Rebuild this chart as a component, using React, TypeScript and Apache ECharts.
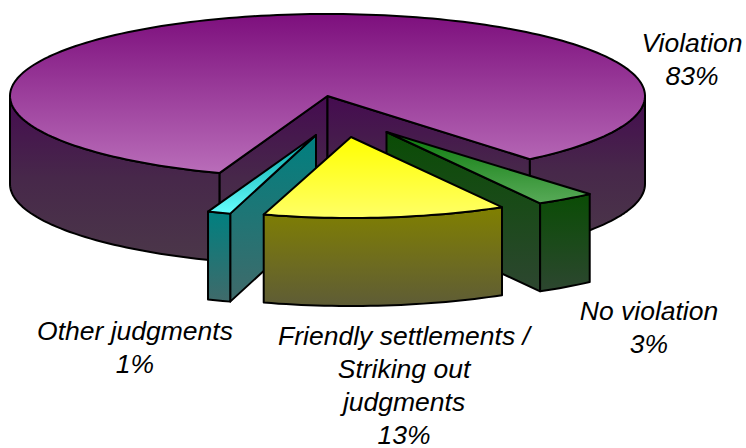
import React, { useEffect, useRef } from "react";
import * as echarts from "echarts";

const categories = ["Violation", "No violation", "Friendly settlements /\nStriking out\njudgments", "Other judgments"];
const shares = [83, 3, 13, 1];

// drawing style, one entry per slice
const topColors = [["#7d0f7d", "#b96db9"], ["#0c7a0c", "#58aa58"], ["#ffff00", "#ffff66"], ["#00a0a0", "#66ffff"]];
const wallColors = [
  ["#450b50", "#47284a", "#4b3749"],
  ["#0a4c05", "#1b4a1a", "#2d4630"],
  ["#808000", "#706e1c", "#5e5c36"],
  ["#008080", "#207575", "#406a6a"],
];
const apexes = [[327.5, 96], [386.5, 132], [351, 137], [316, 135]];
const radiusX = [317.5, 311, 302, 302];
const radiusY = [82, 82, 81, 82];
const drawRank = [0, 1, 3, 1];
const labelAnchors = [[692, 59], [649, 327], [404, 385], [135, 347]];
const fromNudge = [-0.5, 0, 0, -0.3];
const toNudge = [1.2, 0.4, 0, 0.55];

const START_DEG = 110.4;
const DEPTH = 88;
const LINE_HEIGHT = 33;
const toRad = (d: number) => (d * Math.PI) / 180;

const vGradient = (colors: string[]) => ({
  type: "linear",
  x: 0,
  y: 0,
  x2: 0,
  y2: 1,
  colorStops: colors.map((color, k) => ({ offset: k / (colors.length - 1), color })),
});

function App() {
  const ref = useRef<HTMLDivElement>(null);
  useEffect(() => {
    document.body.style.margin = "0";
    const chart = echarts.init(ref.current!, undefined, { renderer: "svg" });
    const total = shares.reduce((a, b) => a + b, 0);
    const starts: number[] = [];
    shares.reduce((acc, v, i) => {
      starts[i] = acc;
      return acc + (v / total) * 360;
    }, START_DEG);

    const renderItem = (params: any, api: any) => {
      const i = params.dataIndex;
      const from = starts[i] + fromNudge[i];
      const to = starts[i] + (api.value(0) / total) * 360 + toNudge[i];
      const [cx, cy] = apexes[i];
      const at = (deg: number, dy = 0) => [
        cx + radiusX[i] * Math.cos(toRad(deg)),
        cy + radiusY[i] * Math.sin(toRad(deg)) + dy,
      ];
      const arc = (a: number, b: number, dy = 0) => {
        const n = Math.max(2, Math.ceil((b - a) / 1.5));
        const pts = [];
        for (let k = 0; k <= n; k++) pts.push(at(a + ((b - a) * k) / n, dy));
        return pts;
      };
      const wallFill = vGradient(wallColors[i]);
      const topFill = vGradient(topColors[i]);
      const base = { stroke: "#000", lineWidth: 2, lineJoin: "round" };
      const z = drawRank[i] * 10;
      const children: any[] = [];
      const poly = (points: number[][], fill: any, z2: number) =>
        children.push({ type: "polygon", z2, shape: { points }, style: { ...base, fill } });

      // radial walls that face the viewer
      [[from, Math.cos(toRad(from)) < 0], [to, Math.cos(toRad(to)) > 0]].forEach(([deg, show]: any, k) => {
        if (!show) return;
        poly([[cx, cy], at(deg), at(deg, DEPTH), [cx, cy + DEPTH]], wallFill, z + 1 + k);
      });
      // rim: the parts of the slice on the front half of the ellipse
      [[0, 180], [360, 540]].forEach(([lo, hi]) => {
        const a = Math.max(from, lo);
        const b = Math.min(to, hi);
        if (a < b) poly([...arc(a, b), ...arc(a, b, DEPTH).reverse()], wallFill, z + 3);
      });
      // top face
      poly([[cx, cy], ...arc(from, to)], topFill, z + 4);
      // label
      children.push({
        type: "text",
        z2: 100,
        x: labelAnchors[i][0],
        y: labelAnchors[i][1],
        style: {
          text: `${categories[i]}\n${api.value(0)}%`,
          font: 'italic 26.5px "Liberation Sans", Arial, sans-serif',
          fill: "#000",
          align: "center",
          verticalAlign: "middle",
          lineHeight: LINE_HEIGHT,
        },
      });
      return { type: "group", children };
    };

    chart.setOption({
      animation: false,
      backgroundColor: "#fff",
      series: [
        {
          type: "custom",
          coordinateSystem: "none",
          silent: true,
          clip: false,
          data: shares.map((v) => [v]),
          renderItem,
        },
      ],
    });
    return () => chart.dispose();
  }, []);
  return <div ref={ref} style={{ width: 746, height: 448 }} />;
}

export default App;
